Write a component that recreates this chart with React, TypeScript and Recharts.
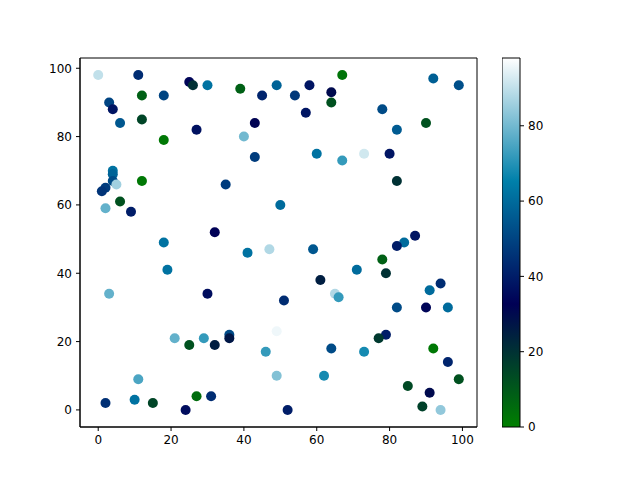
import { ScatterChart, Scatter, XAxis, YAxis, ReferenceArea, BarChart, Bar } from 'recharts';

const xs = [0, 11, 25, 26, 30, 39, 12, 18, 45, 49, 3, 4, 6, 12, 27, 18, 43, 40, 43, 4, 4, 4, 5, 2, 1, 12, 35, 2, 6, 9, 50, 32, 18,
  67, 92, 99, 58, 54, 64, 64, 57, 78, 90, 82, 60, 67, 73, 80, 82, 87, 84, 82,
  41, 47, 19, 3, 30, 21, 25, 29, 32, 36, 36, 49, 46, 49, 11, 2, 10, 15, 27, 31, 24,
  59, 78, 71, 79, 61, 65, 66, 94, 91, 51, 82, 90, 96, 79, 77, 64, 73, 92, 96, 99, 85, 91, 89, 94, 52, 62];
const ys = [98, 98, 96, 95, 95, 94, 92, 92, 92, 95, 90, 88, 84, 85, 82, 79, 84, 80, 74, 70, 69, 67, 66, 65, 64, 67, 66, 59, 61, 58, 60, 52, 49,
  98, 97, 95, 95, 92, 93, 90, 87, 88, 84, 82, 75, 73, 75, 75, 67, 51, 49, 48,
  46, 47, 41, 34, 34, 21, 19, 21, 19, 22, 21, 23, 17, 10, 9, 2, 3, 2, 4, 4, 0,
  47, 44, 41, 40, 38, 34, 33, 37, 35, 32, 30, 30, 30, 22, 21, 18, 17, 18, 14, 9, 7, 5, 1, 0, 0, 10];
const cs = [90, 44, 34, 20, 62, 8, 8, 50, 42, 58, 50, 38, 55, 15, 37, 2, 32, 80, 48, 62, 58, 52, 86, 48, 46, 2, 48, 78, 12, 40, 60, 33, 62,
  3, 57, 53, 38, 47, 30, 12, 38, 52, 12, 56, 62, 72, 92, 38, 20, 38, 60, 40,
  62, 88, 62, 78, 36, 78, 12, 72, 25, 52, 27, 96, 72, 82, 75, 45, 62, 15, 5, 44, 36,
  55, 8, 60, 20, 25, 88, 72, 44, 60, 44, 52, 34, 60, 40, 18, 52, 68, 2, 42, 12, 14, 30, 16, 84, 40, 68];

const xTicks = [0, 20, 40, 60, 80, 100];
const yTicks = [0, 20, 40, 60, 80, 100];
const cTicks = [0, 20, 40, 60, 80];
const cMax = 98;

const points = xs.map((x, i) => ({ x, y: ys[i], c: cs[i] }));

// matplotlib "ocean" colormap
function ocean(t: number) {
  const clip = (v: number) => Math.max(0, Math.min(1, v));
  const r = clip(3 * t - 2);
  const g = clip(Math.abs((3 * t - 1) / 2));
  const b = clip(t);
  return `rgb(${Math.round(r * 255)},${Math.round(g * 255)},${Math.round(b * 255)})`;
}

const font = { fill: '#000', fontSize: 12, fontFamily: 'DejaVu Sans' };

function Dot(props: any) {
  const { cx, cy, payload } = props;
  if (cx == null || cy == null) return null;
  return <circle cx={cx} cy={cy} r={5} fill={ocean(payload.c / cMax)} />;
}

export default function App() {
  return (
    <div style={{ position: 'absolute', left: 0, top: 0, width: 640, height: 480, background: '#fff' }}>
      <ScatterChart width={640} height={480} margin={{ top: 58, right: 163, bottom: 23, left: 40 }}>
        <XAxis
          type="number"
          dataKey="x"
          domain={[-5, 104]}
          ticks={xTicks}
          tick={font}
          tickSize={4}
          tickMargin={4}
          height={30}
          axisLine={{ stroke: '#000' }}
          tickLine={{ stroke: '#000' }}
          allowDataOverflow
        />
        <YAxis
          type="number"
          dataKey="y"
          domain={[-5, 103]}
          ticks={yTicks}
          tick={font}
          tickSize={4}
          tickMargin={4}
          width={40}
          axisLine={{ stroke: '#000' }}
          tickLine={{ stroke: '#000' }}
          allowDataOverflow
        />
        <ReferenceArea x1={-5} x2={104} y1={-5} y2={103} fill="none" stroke="#000" strokeWidth={1} ifOverflow="visible" />
        <Scatter data={points} shape={<Dot />} isAnimationActive={false} />
      </ScatterChart>
      <div style={{ position: 'absolute', left: 502, top: 48 }}>
        <BarChart
          width={60}
          height={389}
          data={[{ v: cMax }]}
          margin={{ top: 10, right: 0, bottom: 10, left: 0 }}
          barCategoryGap={0}
          barGap={0}
        >
          <defs>
            <linearGradient id="cbar" x1="0" y1="0" x2="0" y2="1">
              <stop offset="0" stopColor={ocean(1)} />
              <stop offset={1 / 3} stopColor={ocean(2 / 3)} />
              <stop offset={2 / 3} stopColor={ocean(1 / 3)} />
              <stop offset="1" stopColor={ocean(0)} />
            </linearGradient>
          </defs>
          <XAxis dataKey="v" hide />
          <YAxis
            orientation="right"
            type="number"
            domain={[0, cMax]}
            ticks={cTicks}
            interval={0}
            tick={font}
            tickSize={4}
            tickMargin={4}
            width={42}
            axisLine={false}
            tickLine={{ stroke: '#000' }}
          />
          <Bar dataKey="v" fill="url(#cbar)" stroke="#000" strokeWidth={1} isAnimationActive={false} />
        </BarChart>
      </div>
    </div>
  );
}
